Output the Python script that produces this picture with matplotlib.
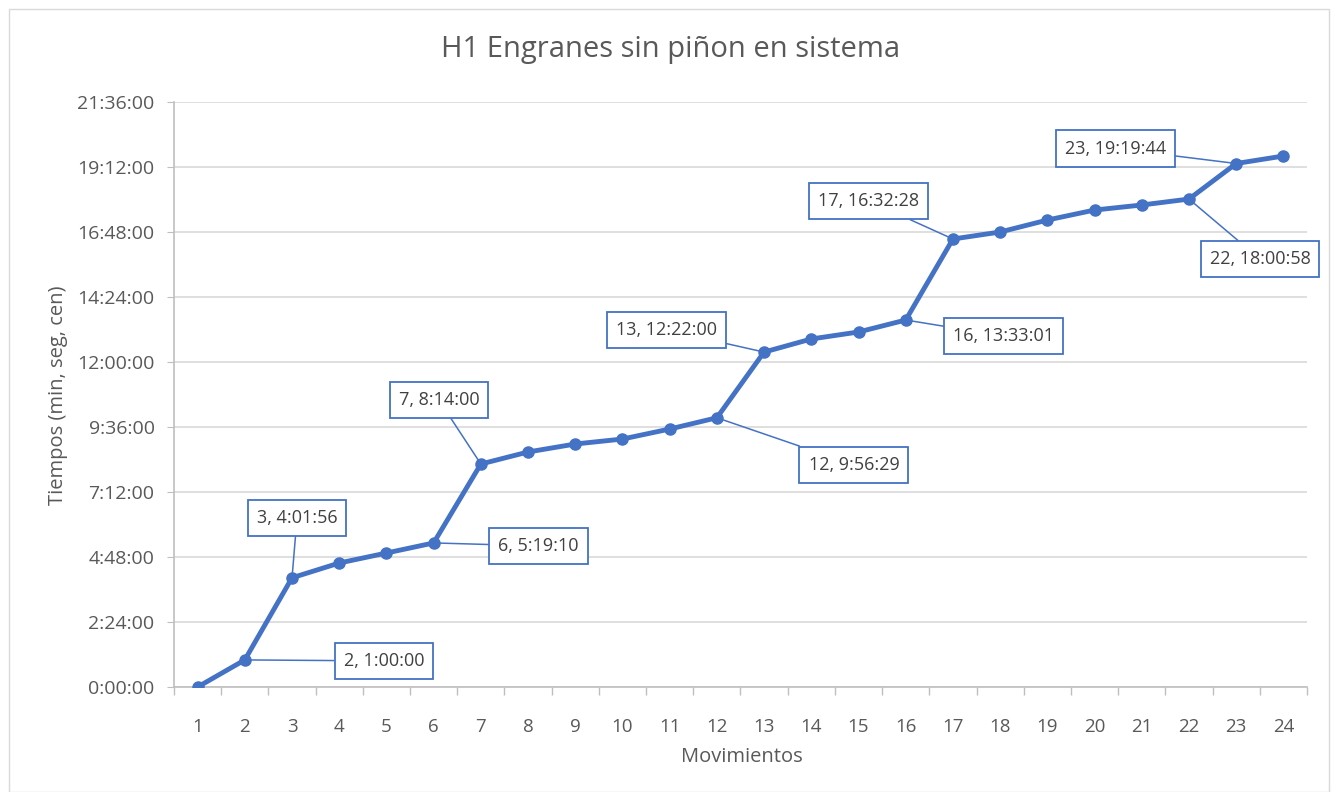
import matplotlib
matplotlib.use('Agg')
import matplotlib.pyplot as plt
import matplotlib.ticker as ticker
from matplotlib.patches import Rectangle

# ---------------------------------------------------------------------------
# Data (times as h:mm:ss strings)
# ---------------------------------------------------------------------------
movimientos = list(range(1, 25))
tiempos = [
    '0:00:00', '1:00:00', '4:01:56', '4:34:40', '4:56:50', '5:19:10',
    '8:14:00', '8:40:40', '8:58:20', '9:09:20', '9:31:30', '9:56:29',
    '12:22:00', '12:51:00', '13:06:30', '13:33:01', '16:32:28', '16:48:00',
    '17:14:30', '17:36:40', '17:47:50', '18:00:58', '19:19:44', '19:36:20',
]
# labelled points (movement number) and label offset in pixels (box centre)
labelled = [2, 3, 6, 7, 12, 13, 16, 17, 22, 23]
label_offsets = {
    2: (139, -1), 3: (5, 60), 6: (105, -3), 7: (-42, 64), 12: (137, -47),
    13: (-98, 22), 16: (98, -16), 17: (-84, 38), 22: (71, -60), 23: (-121, 15),
}

y_max = 21 * 3600 + 36 * 60
y_step = 2 * 3600 + 24 * 60

BLUE = '#4472C4'
GREY_TXT = '#595959'
GRID = '#D9D9D9'


def to_sec(s):
    h, m, sec = (int(p) for p in s.split(':'))
    return h * 3600 + m * 60 + sec


def fmt_hms(v, pos=None):
    v = int(round(v))
    return f'{v // 3600}:{(v % 3600) // 60:02d}:{v % 60:02d}'


secs = [to_sec(t) for t in tiempos]

plt.rcParams['font.family'] = ['Open Sans', 'DejaVu Sans']

fig = plt.figure(figsize=(13.38, 7.92), dpi=100)
ax = fig.add_axes([174 / 1338, 1 - 687 / 792, (1307 - 174) / 1338, (687 - 102) / 792])

fig.patches.append(Rectangle((9 / 1338, 0.0), 1 - 18 / 1338, 1 - 9 / 792,
                             transform=fig.transFigure, fill=False,
                             edgecolor='#D9D9D9', lw=1))

ax.plot(movimientos, secs, color=BLUE, lw=3.5, marker='o', ms=8,
        solid_capstyle='round', zorder=3)

for m in labelled:
    i = m - 1
    ax.annotate(f'{m}, {tiempos[i]}', xy=(m, secs[i]),
                xytext=label_offsets[m], textcoords='offset pixels',
                ha='center', va='center', fontsize=13, color='#404040',
                bbox=dict(boxstyle='square,pad=0.5', fc='white', ec=BLUE, lw=1.3),
                arrowprops=dict(arrowstyle='-', color=BLUE, lw=1.1,
                                shrinkA=0, shrinkB=0),
                zorder=4)

ax.set_xlim(0.5, 24.5)
ax.set_ylim(0, y_max)
ax.set_xticks(movimientos)
ax.set_xticks([x + 0.5 for x in range(0, 25)], minor=True)
ax.set_yticks(range(0, y_max + 1, y_step))
ax.yaxis.set_major_formatter(ticker.FuncFormatter(fmt_hms))

ax.tick_params(axis='x', which='major', length=0, pad=22, labelsize=13.5, labelcolor=GREY_TXT)
ax.tick_params(axis='x', which='minor', length=6, color='#BFBFBF', width=1)
ax.tick_params(axis='y', length=5, color='#BFBFBF', pad=9, labelsize=14, labelcolor=GREY_TXT)

ax.grid(True, axis='y', color=GRID, lw=1.2)
ax.set_axisbelow(True)
for side in ('top', 'right'):
    ax.spines[side].set_visible(False)
for side in ('left', 'bottom'):
    ax.spines[side].set_color('#BFBFBF')
    ax.spines[side].set_linewidth(1.2)

ax.set_xlabel('Movimientos', fontsize=14.5, color=GREY_TXT)
ax.set_ylabel('Tiempos (min, seg, cen)', fontsize=14.5, color=GREY_TXT)
ax.xaxis.set_label_coords((742 - 174) / 1133, (687 - 747) / 585)
ax.yaxis.set_label_coords((68 - 174) / 1133, (687 - 395) / 585)
fig.text(671 / 1338, 1 - 50 / 792, 'H1 Engranes sin piñon en sistema',
         ha='center', va='center', fontsize=21, color=GREY_TXT)

fig.savefig('out.png', dpi=100, facecolor='white')
